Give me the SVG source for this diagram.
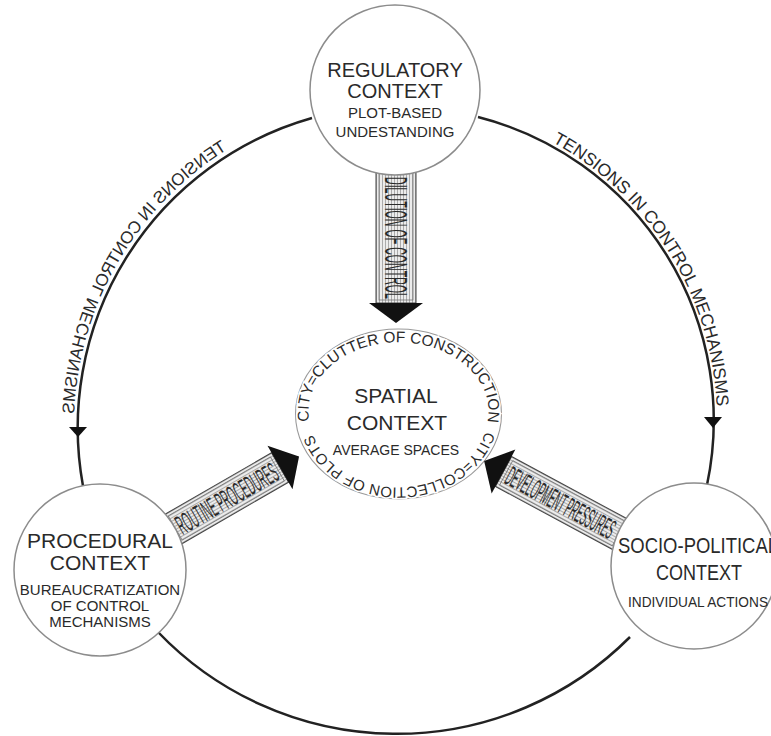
<svg xmlns="http://www.w3.org/2000/svg" width="771" height="736" viewBox="0 0 771 736">
<defs>
<pattern id="hatch" width="3" height="3" patternUnits="userSpaceOnUse"><rect width="3" height="3" fill="#ececec"/><line x1="0" y1="1.5" x2="3" y2="1.5" stroke="#9a9a9a" stroke-width="0.8"/></pattern>
<path id="rp" d="M552.2,142 A317,317 0 0 1 716.8,410" fill="none"/>
<path id="lp" d="M572.7,149.5 A326,326 0 0 1 725.9,418" fill="none"/>
<path id="ringTop" d="M309.4,421.1 A90,69 0 1 1 487.6,421.1" fill="none"/>
<path id="ringBot" d="M485.4,431.2 A90,76 0 0 1 311.6,431.2" fill="none"/>
</defs>
<style>
.arc{fill:none;stroke:#222;stroke-width:2.5}
.node{fill:#fff;stroke:#8c8c8c;stroke-width:1.5}
.t{font-family:"Liberation Sans",Arial,sans-serif;fill:#2a2a2a;text-anchor:middle}
.ttl{font-size:20px}
.sub{font-size:15px}
.arc-label{font-family:"Liberation Sans",Arial,sans-serif;fill:#2a2a2a}
.shaft{fill:url(#hatch);stroke:#444;stroke-width:1}
.inner{fill:none;stroke:#777;stroke-width:0.8}
.head{fill:#111}
.btxt{font-family:"Liberation Sans",Arial,sans-serif;fill:#2a2a2a}
.ring{font-family:"Liberation Sans",Arial,sans-serif;fill:#2a2a2a;stroke:#fff;stroke-width:3;paint-order:stroke}
.tip{fill:#111}
</style>
<rect width="771" height="736" fill="#fff"/>

<g id="spatial">
 <ellipse cx="398.5" cy="414" rx="103" ry="85" fill="none" stroke="#9a9a9a" stroke-width="1.1"/>
 <text class="ring" font-size="15.5"><textPath href="#ringTop">CITY=CLUTTER OF CONSTRUCTION</textPath></text>
 <text class="ring" font-size="15"><textPath href="#ringBot">CITY=COLLECTION OF PLOTS</textPath></text>
 <text class="t" x="396" y="403" font-size="21">SPATIAL</text>
 <text class="t" x="397" y="430" font-size="21">CONTEXT</text>
 <text class="t" x="396" y="455" font-size="14">AVERAGE SPACES</text>
</g>

<g id="connectors">
 <path class="arc" d="M312,118 A322,322 0 0 0 83,486"/>
 <path class="arc" d="M478,117 A313,313 0 0 1 707,485"/>
 <path class="arc" d="M158,632 A330,330 0 0 0 630,637"/>
 <polygon class="tip" points="69,427 87,427 78,437"/>
 <polygon class="tip" points="704,417 722,417 713,428"/>
 <text class="arc-label" font-size="17.5"><textPath href="#rp">TENSIONS IN CONTROL MECHANISMS</textPath></text>
 <g transform="matrix(-1 0 0 1 800 0)">
  <text class="arc-label" font-size="17.1"><textPath href="#lp">TENSIONS IN CONTROL MECHANISMS</textPath></text>
 </g>
 <g id="arrow-dilution" transform="translate(396,303) rotate(90)">
  <rect class="shaft" x="-135" y="-20" width="135" height="40"/>
  <rect class="inner" x="-132" y="-17" width="129" height="34"/>
  <polygon class="head" points="0,-27 20,0 0,27"/>
  <text class="btxt" x="-126" y="11.5" font-size="32" textLength="122" lengthAdjust="spacingAndGlyphs">DILUTION OF CONTROL</text>
 </g>
 <g id="arrow-routine" transform="translate(280,467.5) rotate(-30)">
  <rect class="shaft" x="-124" y="-17" width="124" height="34"/>
  <rect class="inner" x="-121" y="-14" width="118" height="28"/>
  <polygon class="head" points="0,-25 22,0 0,25"/>
  <text class="btxt" x="-118" y="10" font-size="28" textLength="113" lengthAdjust="spacingAndGlyphs">ROUTINE PROCEDURES</text>
 </g>
 <g id="arrow-development" transform="translate(503.5,471.5) rotate(28.3)">
  <rect class="shaft" x="0" y="-17" width="134" height="34"/>
  <rect class="inner" x="3" y="-14" width="128" height="28"/>
  <polygon class="head" points="0,-25 -22,0 0,25"/>
  <text class="btxt" x="5" y="10" font-size="28" textLength="120" lengthAdjust="spacingAndGlyphs">DEVELOPMENT PRESSURES</text>
 </g>
</g>

<g id="regulatory">
 <circle class="node" cx="395" cy="90" r="85"/>
 <text class="t ttl" x="395" y="77">REGULATORY</text>
 <text class="t ttl" x="395" y="98">CONTEXT</text>
 <text class="t sub" x="395" y="118">PLOT-BASED</text>
 <text class="t sub" x="395" y="137">UNDESTANDING</text>
</g>

<g id="procedural">
 <circle class="node" cx="100" cy="570" r="86"/>
 <text class="t" x="100" y="548" font-size="21">PROCEDURAL</text>
 <text class="t" x="100" y="570" font-size="21">CONTEXT</text>
 <text class="t" x="100" y="595" font-size="15">BUREAUCRATIZATION</text>
 <text class="t" x="100" y="611" font-size="15">OF CONTROL</text>
 <text class="t" x="100" y="627" font-size="15">MECHANISMS</text>
</g>

<g id="sociopolitical">
 <circle class="node" cx="694" cy="566" r="83"/>
 <text class="t" x="698" y="553" font-size="22" textLength="160" lengthAdjust="spacingAndGlyphs">SOCIO-POLITICAL</text>
 <text class="t" x="699" y="580" font-size="22" textLength="86" lengthAdjust="spacingAndGlyphs">CONTEXT</text>
 <text class="t" x="698" y="607" font-size="14" textLength="140" lengthAdjust="spacingAndGlyphs">INDIVIDUAL ACTIONS</text>
</g>
</svg>
